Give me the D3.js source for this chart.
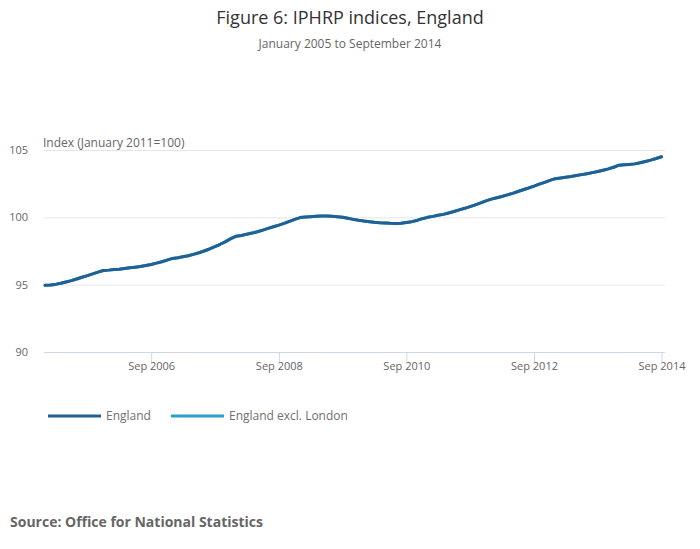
<!DOCTYPE html>
<html lang="en">
<head>
    <meta charset="utf-8">
    <title>Figure 6: IPHRP indices, England</title>
    <script type="text/javascript" src="https://cdn.jsdelivr.net/npm/d3@7"></script>
    <style type="text/css">
        body { margin: 0; background: #fff; }
        svg { font-family: "Open Sans", sans-serif; }
    </style>
</head>
<body>
    <script type="text/javascript">
        // Monthly index values, January 2005 to September 2014
        var startMonth = "2005-01";
        var england = [
            94.95, 94.97, 95.02, 95.10, 95.20, 95.30, 95.42, 95.55, 95.67, 95.80, 95.93, 96.05,
            96.08, 96.12, 96.15, 96.20, 96.25, 96.30, 96.35, 96.42, 96.50, 96.60, 96.70, 96.82,
            96.95, 97.00, 97.07, 97.15, 97.25, 97.37, 97.50, 97.65, 97.82, 98.00, 98.20, 98.42,
            98.60, 98.65, 98.75, 98.83, 98.93, 99.05, 99.18, 99.30, 99.42, 99.55, 99.70, 99.85,
            99.98, 100.02, 100.05, 100.08, 100.10, 100.10, 100.08, 100.05, 100.00, 99.93, 99.85, 99.78,
            99.72, 99.67, 99.63, 99.60, 99.58, 99.56, 99.55, 99.56, 99.62, 99.68, 99.77, 99.90,
            100.00, 100.07, 100.15, 100.22, 100.32, 100.43, 100.55, 100.67, 100.80, 100.93, 101.07, 101.22,
            101.35, 101.45, 101.55, 101.67, 101.78, 101.92, 102.05, 102.18, 102.32, 102.47, 102.60, 102.74,
            102.87, 102.92, 102.97, 103.03, 103.10, 103.17, 103.24, 103.32, 103.40, 103.50, 103.60, 103.72,
            103.87, 103.90, 103.93, 103.97, 104.05, 104.15, 104.25, 104.37, 104.50
        ];
        // England excl. London is hidden under the England line in the picture
        var englandExclLondon = [
            94.95, 94.97, 95.02, 95.10, 95.20, 95.30, 95.42, 95.55, 95.67, 95.80, 95.93, 96.05,
            96.08, 96.12, 96.15, 96.20, 96.25, 96.30, 96.35, 96.42, 96.50, 96.60, 96.70, 96.82,
            96.95, 97.00, 97.07, 97.15, 97.25, 97.37, 97.50, 97.65, 97.82, 98.00, 98.20, 98.42,
            98.60, 98.65, 98.75, 98.83, 98.93, 99.05, 99.18, 99.30, 99.42, 99.55, 99.70, 99.85,
            99.98, 100.02, 100.05, 100.08, 100.10, 100.10, 100.08, 100.05, 100.00, 99.93, 99.85, 99.78,
            99.72, 99.67, 99.63, 99.60, 99.58, 99.56, 99.55, 99.56, 99.62, 99.68, 99.77, 99.90,
            100.00, 100.07, 100.15, 100.22, 100.32, 100.43, 100.55, 100.67, 100.80, 100.93, 101.07, 101.22,
            101.35, 101.45, 101.55, 101.67, 101.78, 101.92, 102.05, 102.18, 102.32, 102.47, 102.60, 102.74,
            102.87, 102.92, 102.97, 103.03, 103.10, 103.17, 103.24, 103.32, 103.40, 103.50, 103.60, 103.72,
            103.87, 103.90, 103.93, 103.97, 104.05, 104.15, 104.25, 104.37, 104.50
        ];
        var seriesNames = ["England", "England excl. London"];
        var seriesColors = ["#206095", "#27a0cc"];
        var yTicks = [90, 95, 100, 105];
        var xTicks = ["2006-09", "2008-09", "2010-09", "2012-09", "2014-09"];

        var w = 700;
        var h = 549;
        var plotLeft = 44, plotRight = 665, plotTop = 150, plotBottom = 352;

        var parseMonth = d3.timeParse("%Y-%m");
        var start = parseMonth(startMonth);

        function toPoints(values) {
            return values.map(function(v, i) {
                return { date: d3.timeMonth.offset(start, i), value: v };
            });
        }
        var series = [toPoints(england), toPoints(englandExclLondon)];

        var x = d3.scaleTime()
            .domain([start, d3.timeMonth.offset(start, england.length - 1)])
            .range([45, 661.5]);

        var y = d3.scaleLinear()
            .domain([90, 105])
            .range([plotBottom, plotTop]);

        var svg = d3.select("body")
            .append("svg")
            .attr("width", w)
            .attr("height", h);

        // Title and subtitle
        svg.append("text")
            .attr("x", w / 2).attr("y", 24)
            .attr("text-anchor", "middle")
            .style("font-size", "18px")
            .style("fill", "#333333")
            .text("Figure 6: IPHRP indices, England");

        svg.append("text")
            .attr("x", w / 2).attr("y", 48)
            .attr("text-anchor", "middle")
            .style("font-size", "12px")
            .style("fill", "#666666")
            .text("January 2005 to September 2014");

        // Horizontal gridlines
        svg.append("g")
            .selectAll("line")
            .data(yTicks.filter(function(d) { return d !== 90; }))
            .enter()
            .append("line")
            .attr("x1", plotLeft).attr("x2", plotRight)
            .attr("y1", function(d) { return y(d) + 0.5; })
            .attr("y2", function(d) { return y(d) + 0.5; })
            .style("stroke", "#e6e6e6")
            .style("stroke-width", 1);

        // Y axis labels
        svg.append("g")
            .selectAll("text")
            .data(yTicks)
            .enter()
            .append("text")
            .attr("x", 28)
            .attr("y", function(d) { return y(d) + 4; })
            .attr("text-anchor", "end")
            .style("font-size", "11px")
            .style("fill", "#666666")
            .text(function(d) { return d; });

        svg.append("text")
            .attr("x", 43).attr("y", 147)
            .style("font-size", "12px")
            .style("fill", "#666666")
            .text("Index (January 2011=100)");

        // X axis
        var xAxis = d3.axisBottom(x)
            .tickValues(xTicks.map(parseMonth))
            .tickFormat(d3.timeFormat("%b %Y"))
            .tickSize(10)
            .tickSizeOuter(0);

        var gx = svg.append("g")
            .attr("transform", "translate(0," + (plotBottom + 0.5) + ")")
            .call(xAxis);
        gx.select(".domain").remove();
        gx.append("line")
            .attr("x1", plotLeft).attr("x2", plotRight)
            .style("stroke", "#ccd6eb");
        gx.selectAll(".tick line").style("stroke", "#ccd6eb");
        gx.selectAll(".tick text")
            .attr("dy", "0.71em")
            .attr("y", 10)
            .style("font-family", "'Open Sans', sans-serif")
            .style("font-size", "11px")
            .style("fill", "#666666");

        // Lines (England drawn last, on top)
        var line = d3.line()
            .x(function(d) { return x(d.date); })
            .y(function(d) { return y(d.value); });

        svg.append("g")
            .selectAll("path")
            .data([1, 0])
            .enter()
            .append("path")
            .attr("d", function(i) { return line(series[i]); })
            .style("fill", "none")
            .style("stroke", function(i) { return seriesColors[i]; })
            .style("stroke-width", 3)
            .style("stroke-linejoin", "round")
            .style("stroke-linecap", "round");

        // Legend
        var legendX = [48, 171];
        var legend = svg.append("g")
            .selectAll("g")
            .data(seriesNames)
            .enter()
            .append("g")
            .attr("transform", function(d, i) { return "translate(" + legendX[i] + ",416)"; });
        legend.append("line")
            .attr("x1", 0).attr("x2", 53)
            .style("stroke", function(d, i) { return seriesColors[i]; })
            .style("stroke-width", 3);
        legend.append("text")
            .attr("x", 58).attr("y", 4)
            .style("font-size", "12px")
            .style("fill", "#707070")
            .text(function(d) { return d; });

        // Source
        svg.append("text")
            .attr("x", 10).attr("y", 527)
            .style("font-size", "14px")
            .style("font-weight", "bold")
            .style("fill", "#666666")
            .text("Source: Office for National Statistics");
    </script>
</body>
</html>
